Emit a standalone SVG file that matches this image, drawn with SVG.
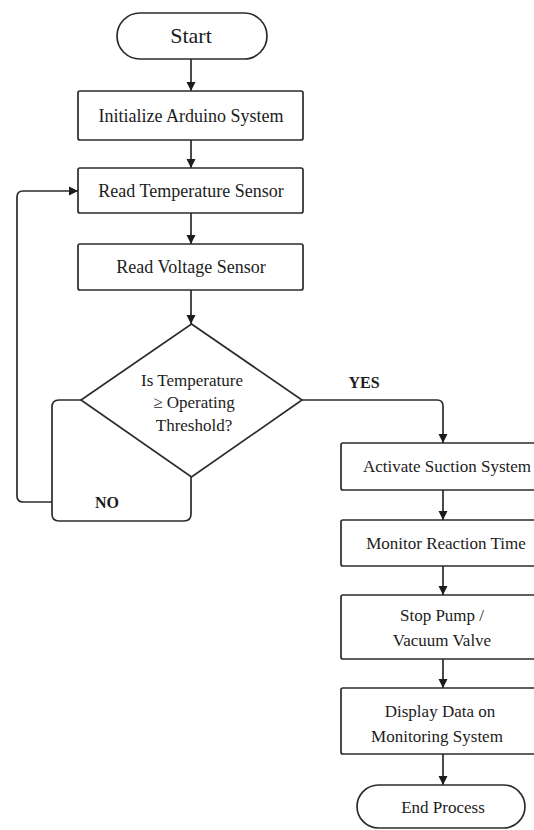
<svg xmlns="http://www.w3.org/2000/svg" width="534" height="830" viewBox="0 0 534 830">
  <style>
    .shape { fill: #ffffff; stroke: #2b2b2b; stroke-width: 1.7; }
    .link { fill: none; stroke: #2b2b2b; stroke-width: 1.7; }
    text { font-family: "Liberation Serif", "Times New Roman", serif; fill: #1c1c1c; text-anchor: middle; }
    .main { font-size: 18px; }
    .side { font-size: 17px; }
    .term { font-size: 22px; }
    .lbl { font-size: 16px; font-weight: bold; }
  </style>
  <defs>
    <marker id="arrow" viewBox="0 0 10 10" refX="10" refY="5" markerWidth="9" markerHeight="10" markerUnits="userSpaceOnUse" orient="auto">
      <path d="M0,0 L10,5 L0,10 z" fill="#1c1c1c"/>
    </marker>
  </defs>
  <rect width="534" height="830" fill="#ffffff"/>

  <!-- connectors -->
  <g id="connectors">
    <path class="link" d="M191 59 L191 91" marker-end="url(#arrow)"/>
    <path class="link" d="M191 140 L191 168" marker-end="url(#arrow)"/>
    <path class="link" d="M191 213 L191 244" marker-end="url(#arrow)"/>
    <path class="link" d="M191 290 L191 324" marker-end="url(#arrow)"/>
    <!-- NO branch loop -->
    <path class="link" d="M191 477 L191 514 Q191 521 184 521 L59 521 Q52 521 52 514 L52 407 Q52 400 59 400 L81 400"/>
    <path class="link" d="M52 502 L23 502 Q17 502 17 496 L17 197 Q17 191 23 191 L78 191" marker-end="url(#arrow)"/>
    <!-- YES branch -->
    <path class="link" d="M302 400 L437 400 Q443 400 443 406 L443 443" marker-end="url(#arrow)"/>
    <path class="link" d="M443 490 L443 520" marker-end="url(#arrow)"/>
    <path class="link" d="M443 566 L443 595" marker-end="url(#arrow)"/>
    <path class="link" d="M443 659 L443 688" marker-end="url(#arrow)"/>
    <path class="link" d="M443 754 L443 785" marker-end="url(#arrow)"/>
  </g>

  <g id="start">
    <rect class="shape" x="117" y="13" width="150" height="46" rx="23" ry="23"/>
    <text class="term" x="191" y="43">Start</text>
  </g>
  <g id="init">
    <rect class="shape" x="78" y="91" width="225" height="49" rx="2"/>
    <text class="main" x="191" y="122">Initialize Arduino System</text>
  </g>
  <g id="read-temp">
    <rect class="shape" x="78" y="168" width="225" height="45" rx="2"/>
    <text class="main" x="191" y="197">Read Temperature Sensor</text>
  </g>
  <g id="read-volt">
    <rect class="shape" x="78" y="244" width="225" height="46" rx="2"/>
    <text class="main" x="191" y="273">Read Voltage Sensor</text>
  </g>
  <g id="decision">
    <polygon class="shape" points="191.5,324 302,400 191.5,477 81,400"/>
    <text class="side" x="192" y="386">Is Temperature</text>
    <text class="side" x="194" y="408">≥ Operating</text>
    <text class="side" x="194" y="431">Threshold?</text>
  </g>
  <g id="label-yes">
    <text class="lbl" x="364" y="388">YES</text>
  </g>
  <g id="label-no">
    <text class="lbl" x="107" y="508">NO</text>
  </g>
  <g id="activate">
    <rect class="shape" x="341" y="443" width="204" height="47" rx="2"/>
    <text class="side" x="447" y="472">Activate Suction System</text>
  </g>
  <g id="monitor">
    <rect class="shape" x="341" y="520" width="204" height="46" rx="2"/>
    <text class="side" x="446" y="549">Monitor Reaction Time</text>
  </g>
  <g id="stop">
    <rect class="shape" x="341" y="595" width="204" height="64" rx="2"/>
    <text class="side" x="442" y="621">Stop Pump /</text>
    <text class="side" x="442" y="646">Vacuum Valve</text>
  </g>
  <g id="display">
    <rect class="shape" x="341" y="688" width="204" height="66" rx="2"/>
    <text class="side" x="440" y="717">Display Data on</text>
    <text class="side" x="437" y="742">Monitoring System</text>
  </g>
  <g id="end">
    <rect class="shape" x="357" y="785" width="168" height="43" rx="21.5" ry="21.5"/>
    <text class="side" x="443" y="813">End Process</text>
  </g>
</svg>
